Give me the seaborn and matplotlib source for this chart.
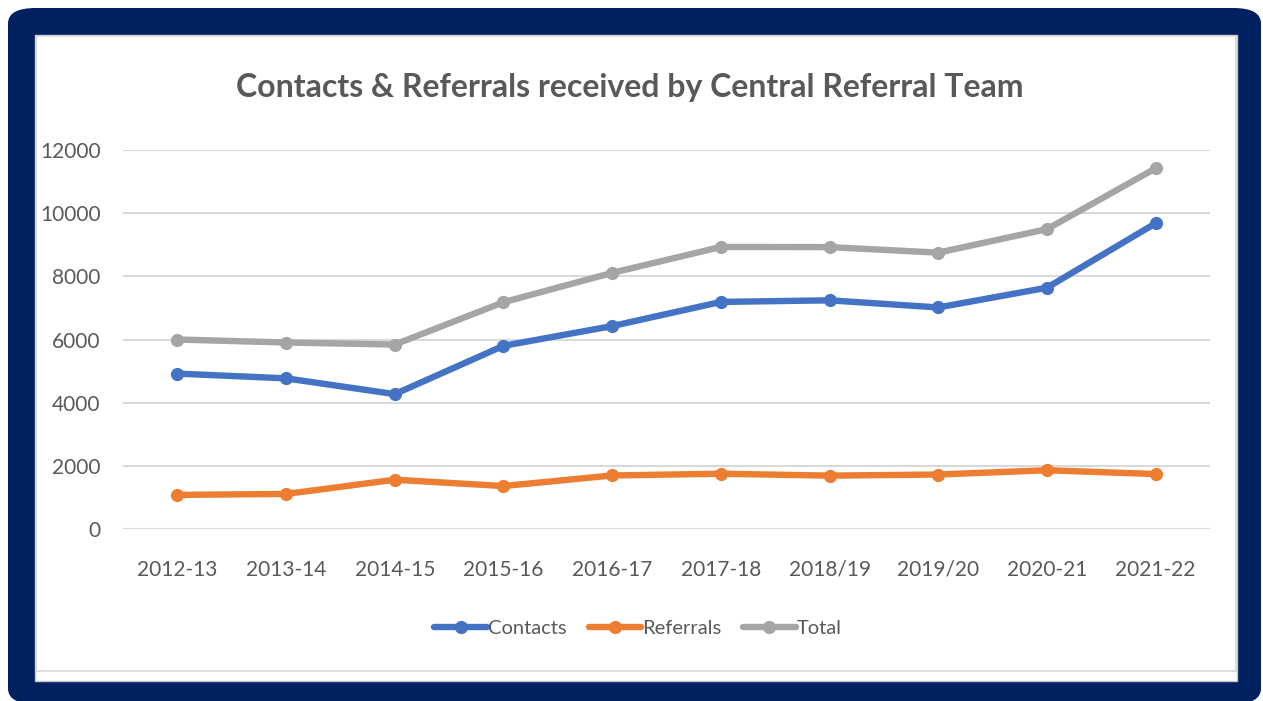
import pandas as pd
import seaborn as sns
import matplotlib.pyplot as plt
from matplotlib.patches import FancyBboxPatch, Rectangle

# Data
years = ['2012-13', '2013-14', '2014-15', '2015-16', '2016-17',
         '2017-18', '2018/19', '2019/20', '2020-21', '2021-22']
contacts = [4920, 4770, 4270, 5800, 6425, 7190, 7240, 7015, 7640, 9680]
referrals = [1080, 1110, 1560, 1360, 1695, 1750, 1690, 1725, 1860, 1740]
total = [6000, 5905, 5840, 7180, 8110, 8930, 8925, 8750, 9495, 11420]

series_names = ['Contacts', 'Referrals', 'Total']
colors = ['#4472C4', '#ED7D31', '#A5A5A5']

df = pd.DataFrame({'year': years, 'Contacts': contacts,
                   'Referrals': referrals, 'Total': total})
long_df = df.melt(id_vars='year', var_name='series', value_name='count')

sns.set_style('white')
plt.rcParams['font.family'] = ['Lato', 'DejaVu Sans']

W, H = 1263, 701
fig = plt.figure(figsize=(W / 100, H / 100), dpi=100)

# navy frame and white chart panel (figure pixel coords)
def px(x, y):
    return x / W, 1 - y / H

x0, y0 = px(8, 704)
fig.patches.append(FancyBboxPatch((x0, y0), (1261 - 8) / W, (704 - 8) / H,
                                  boxstyle='round,pad=0,rounding_size=0.022',
                                  transform=fig.transFigure, facecolor='#002060',
                                  edgecolor='none', zorder=0))
fx, fy = px(35, 681)
fig.patches.append(Rectangle((fx, fy), (1237 - 35) / W, (681 - 35) / H,
                             transform=fig.transFigure, facecolor='white',
                             edgecolor='#C8C8C8', linewidth=1, zorder=0.5))
ix, iy = px(36, 671)
fig.patches.append(Rectangle((ix, iy), (1236 - 36) / W, (671 - 36) / H,
                             transform=fig.transFigure, facecolor='none',
                             edgecolor='#D9D9D9', linewidth=1.2, zorder=0.6))

ax = fig.add_axes([123 / W, 1 - 529 / H, (1210 - 123) / W, (529 - 150) / H])
ax.set_facecolor('none')
ax.set_zorder(2)

sns.lineplot(data=long_df, x='year', y='count', hue='series',
             hue_order=series_names, palette=colors, ax=ax,
             marker='o', markersize=9.5, markeredgewidth=0,
             linewidth=4.6, sort=False, legend=True)

ax.set_xlim(-0.5, len(years) - 0.5)
ax.set_ylim(0, 12000)
ax.set_yticks(range(0, 12001, 2000))
ax.grid(axis='y', color='#D9D9D9', linewidth=1.5)
ax.set_axisbelow(True)
for s in ax.spines.values():
    s.set_visible(False)
ax.tick_params(axis='both', length=0, labelsize=15, labelcolor='#595959')
ax.tick_params(axis='y', pad=16)
ax.tick_params(axis='x', pad=22)
ax.set_xlabel('')
ax.set_ylabel('')

fig.text(630 / W, 1 - 88 / H, 'Contacts & Referrals received by Central Referral Team',
         ha='center', va='center', fontsize=23, fontweight='bold', color='#595959',
         zorder=3)

handles, labels = ax.get_legend_handles_labels()
ax.get_legend().remove()
leg = fig.legend(handles, labels, loc='center', bbox_to_anchor=(638 / W, 1 - 628 / H),
                 ncol=3, frameon=False, fontsize=14.5, labelcolor='#595959',
                 handlelength=2.6, handletextpad=0.05, columnspacing=1.1)
leg.set_zorder(3)

plt.savefig('out.png', dpi=100, facecolor='white')
